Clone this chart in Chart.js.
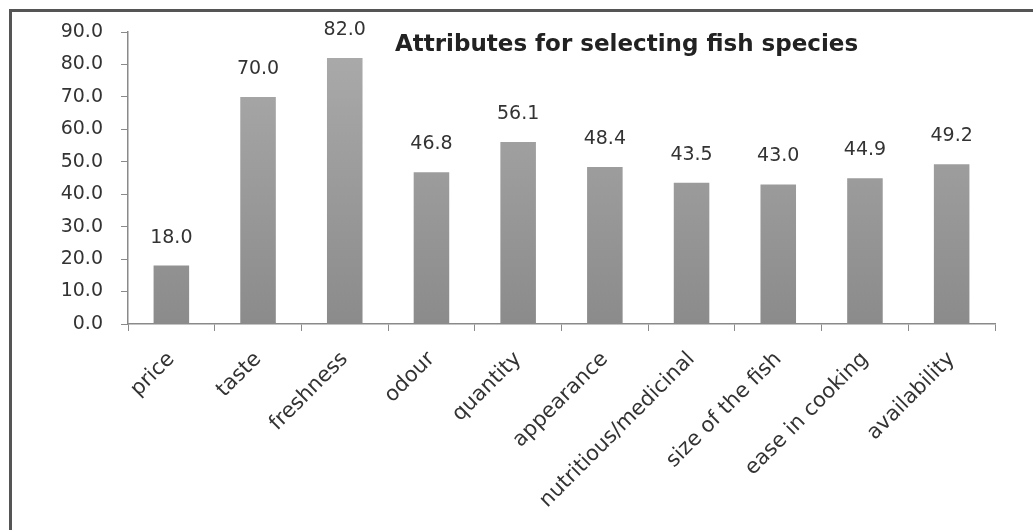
<!DOCTYPE html>
<html lang="en">
<head>
    <meta charset="UTF-8">
    <title>Attributes for selecting fish species</title>
    <script src="https://cdn.jsdelivr.net/npm/chart.js"></script>
    <style>
        body {
            margin: 0;
            background-color: #fff;
            font-family: "DejaVu Sans", sans-serif;
        }

        .frame {
            position: absolute;
            left: 9px;
            top: 9px;
            width: 1024px;
            height: 521px;
            border-top: 3px solid #555;
            border-left: 3px solid #555;
            box-sizing: border-box;
        }

        .chart-container {
            position: absolute;
            left: 0;
            top: 0;
            width: 1033px;
            height: 530px;
        }
    </style>
</head>
<body>

    <div class="frame"></div>
    <div class="chart-container">
        <canvas id="fishChart"></canvas>
    </div>

    <script>
        // Datos del gráfico
        const categories = ['price', 'taste', 'freshness', 'odour', 'quantity', 'appearance',
            'nutritious/medicinal', 'size of the fish', 'ease in cooking', 'availability'];
        const values = [18.0, 70.0, 82.0, 46.8, 56.1, 48.4, 43.5, 43.0, 44.9, 49.2];
        const yTicks = [0, 10, 20, 30, 40, 50, 60, 70, 80, 90];
        const chartTitle = 'Attributes for selecting fish species';

        const textColor = '#333';
        const axisColor = '#8a8a8a';

        // Etiquetas de valor encima de cada barra
        const valueLabels = {
            id: 'valueLabels',
            afterDatasetsDraw(chart) {
                const ctx = chart.ctx;
                const meta = chart.getDatasetMeta(0);
                ctx.save();
                ctx.font = '19px "DejaVu Sans"';
                ctx.fillStyle = textColor;
                ctx.textAlign = 'center';
                ctx.textBaseline = 'middle';
                meta.data.forEach(function(bar, i) {
                    ctx.fillText(values[i].toFixed(1), bar.x, bar.y - 28);
                });
                ctx.restore();
            }
        };

        // Título dentro del área del gráfico
        const innerTitle = {
            id: 'innerTitle',
            afterDraw(chart) {
                const ctx = chart.ctx;
                const area = chart.chartArea;
                ctx.save();
                ctx.font = 'bold 23px "DejaVu Sans"';
                ctx.fillStyle = '#222';
                ctx.textAlign = 'center';
                ctx.textBaseline = 'middle';
                ctx.fillText(chartTitle, area.left + (area.right - area.left) * 0.575, area.top + 13);
                ctx.restore();
            }
        };

        const ctx = document.getElementById('fishChart').getContext('2d');
        const fishChart = new Chart(ctx, {
            type: 'bar',
            data: {
                labels: categories,
                datasets: [{
                    data: values,
                    backgroundColor: function(context) {
                        const area = context.chart.chartArea;
                        if (!area) return '#999';
                        const g = context.chart.ctx.createLinearGradient(0, area.top, 0, area.bottom);
                        g.addColorStop(0, '#acacac');
                        g.addColorStop(1, '#8b8b8b');
                        return g;
                    },
                    borderWidth: 0,
                    categoryPercentage: 1.0,
                    barPercentage: 0.41
                }]
            },
            options: {
                responsive: true,
                maintainAspectRatio: false,
                animation: false,
                layout: {
                    padding: { top: 32, right: 38, left: 0, bottom: 0 }
                },
                plugins: {
                    legend: { display: false },
                    tooltip: { enabled: false }
                },
                scales: {
                    x: {
                        afterFit: function(scale) { scale.height = 206; },
                        border: { color: axisColor, width: 1.5 },
                        grid: {
                            drawOnChartArea: false,
                            offset: true,
                            tickLength: 7,
                            color: axisColor
                        },
                        ticks: {
                            minRotation: 45,
                            maxRotation: 45,
                            padding: 16,
                            color: textColor,
                            font: { family: '"DejaVu Sans"', size: 21 }
                        }
                    },
                    y: {
                        min: 0,
                        max: 90,
                        afterFit: function(scale) { scale.width = 128; },
                        afterBuildTicks: function(scale) {
                            scale.ticks = yTicks.map(function(v) { return { value: v }; });
                        },
                        border: { color: axisColor, width: 1.5 },
                        grid: {
                            drawOnChartArea: false,
                            tickLength: 7,
                            color: axisColor
                        },
                        ticks: {
                            padding: 18,
                            color: textColor,
                            font: { family: '"DejaVu Sans"', size: 19 },
                            callback: function(v) { return Number(v).toFixed(1); }
                        }
                    }
                }
            },
            plugins: [valueLabels, innerTitle]
        });
    </script>

</body>
</html>
